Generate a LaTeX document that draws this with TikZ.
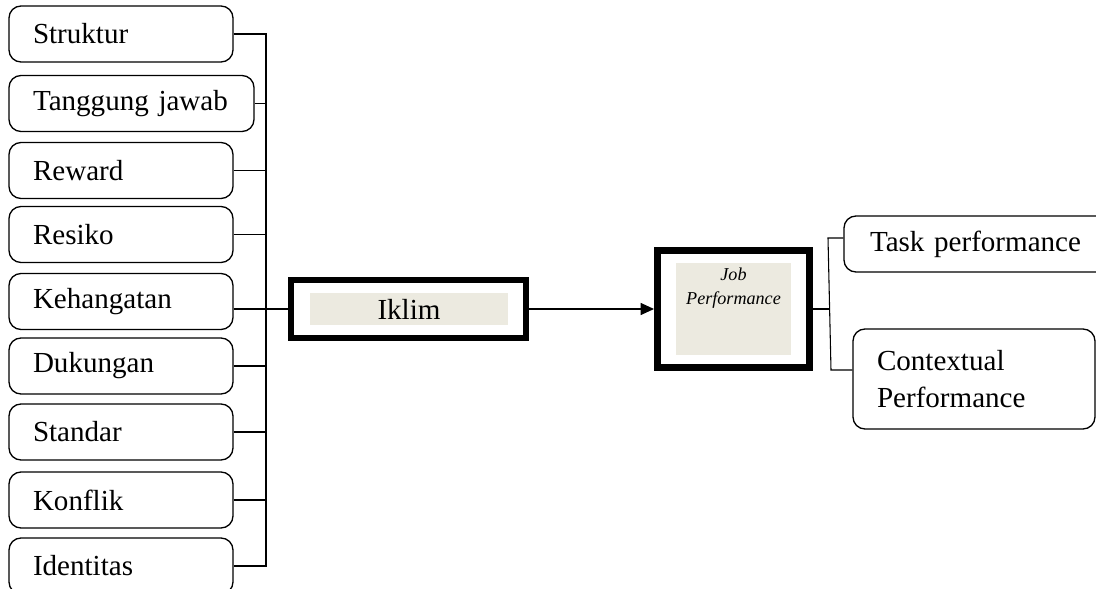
\documentclass[tikz,border=0pt]{standalone}
\usepackage{fontspec}
\setmainfont{Liberation Serif}
\usetikzlibrary{arrows.meta,calc}
\definecolor{beige}{HTML}{ECEAE0}
\begin{document}
\begin{tikzpicture}[x=0.75pt,y=-0.75pt,
  leftbox/.style={draw,line width=1pt,rounded corners=9pt,minimum height=42pt,
    minimum width=168pt,text width=132pt,inner xsep=18pt,align=left,
    font=\fontsize{21.8}{26}\selectfont},
  rightbox/.style={draw,line width=1pt,rounded corners=9pt,align=left,
    font=\fontsize{21.8}{27.75}\selectfont},
  thickbox/.style={draw,inner sep=0pt},
  fillbox/.style={fill=beige,inner sep=0pt},
  conn/.style={line width=0.8pt}]
\useasboundingbox (0,0) rectangle (1096,589);
\clip (0,0) rectangle (1096,589);
% left boxes
\node[leftbox] (s1) at (121,34) {Struktur};
\node[leftbox,minimum width=183.75pt,text width=147.75pt] (s2) at (131.5,103.5) {Tanggung jawab};
\node[leftbox] (s3) at (121,170.5) {Reward};
\node[leftbox] (s4) at (121,234.5) {Resiko};
\node[leftbox] (s5) at (121,301.5) {Kehangatan};
\node[leftbox] (s6) at (121,366) {Dukungan};
\node[leftbox] (s7) at (121,432) {Standar};
\node[leftbox] (s8) at (121,500) {Konflik};
\node[leftbox] (s9) at (121,566) {Identitas};
\coordinate (bus) at (266,0);
% Iklim
\node[thickbox,line width=4.5pt,minimum width=176.25pt,minimum height=43.5pt] (iklim) at (408.5,309) {};
\node[fillbox,minimum width=148.5pt,minimum height=24pt,font=\fontsize{21.8}{26}\selectfont] (iklimtext) at (409,309) {Iklim};
% Job performance
\node[thickbox,line width=5.25pt,minimum width=114pt,minimum height=87.75pt] (job) at (733.5,309) {};
\node[fillbox,minimum width=86.25pt,minimum height=69pt] (jobfill) at (733.5,309) {};
\node[align=center,font=\fontsize{13.6}{18}\selectfont\itshape,inner sep=0pt] (jobtext) at (733.5,288) {Job\\Performance};
% right boxes
\node[rightbox,minimum width=199.5pt,minimum height=42pt,text width=160.5pt,inner xsep=19.5pt] (task) at (977,244) {Task performance};
\node[rightbox,minimum width=181.5pt,minimum height=75pt,text width=145.5pt,inner xsep=18pt] (ctx) at (974,379) {Contextual\\Performance};
% connectors left
\draw[conn] (s1.east) -- (s1.east -| bus) -- (s9.east -| bus) -- (s9.east);
\foreach \n in {s2,s3,s4,s6,s7,s8}{
  \draw[conn] (\n.east) -- (\n.east -| bus);
}
\draw[conn] (s5.east |- iklim.west) -- (iklim.west);
% arrow
\draw[conn,-{Triangle[length=10pt,width=9pt]}] (iklim.east) -- (job.west);
% right bracket
\coordinate (br) at (830,309);
\coordinate (tconn) at (828,238);
\coordinate (cconn) at (831,370);
\draw[conn] (job.east) -- (br);
\draw[conn] (tconn -| task.west) -- (tconn) -- (cconn) -- (cconn -| ctx.west);
\end{tikzpicture}
\end{document}
